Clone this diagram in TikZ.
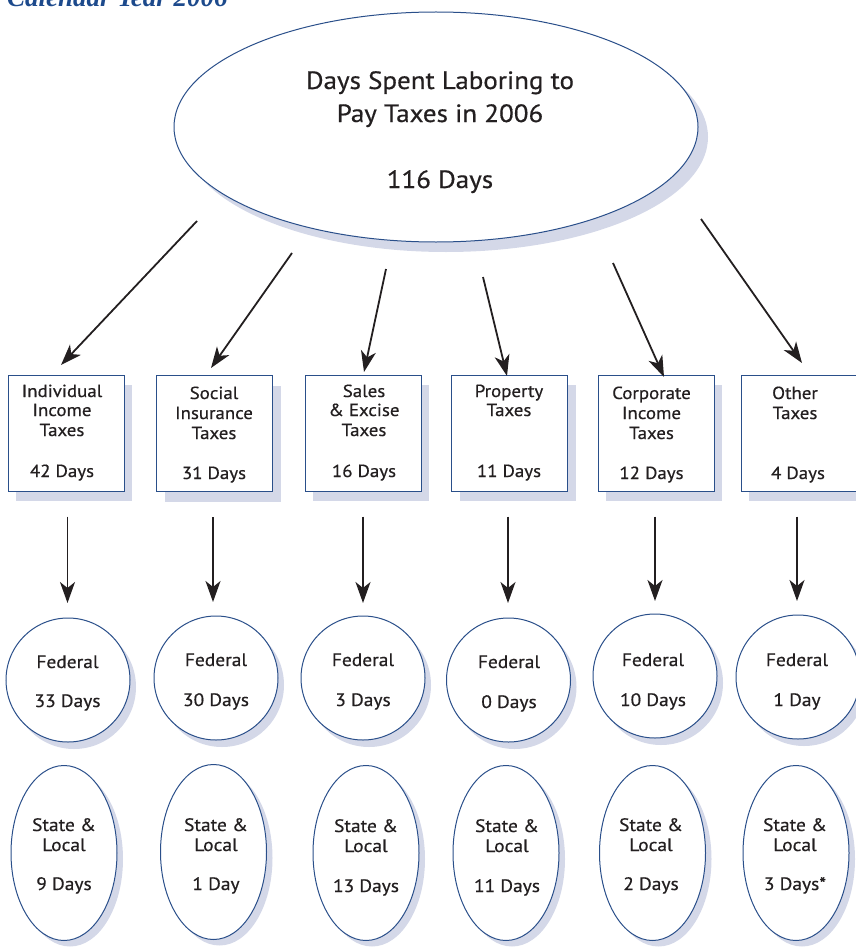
\documentclass[tikz,border=0pt]{standalone}
\usepackage{fontspec}
\setmainfont{PT Sans}[FakeStretch=1.08,FakeBold=0.5]
\newfontfamily\calfont{Liberation Serif}
\usetikzlibrary{shapes.geometric,shadows,arrows.meta}
\definecolor{edgeblue}{HTML}{2A4F8A}
\definecolor{shadowc}{HTML}{D4D8E8}
\definecolor{inkc}{HTML}{231F20}
\definecolor{titleblue}{HTML}{1D4A8C}
\begin{document}
\begin{tikzpicture}[x=1pt,y=-1pt,
  shapebase/.style={draw=edgeblue, line width=1pt, fill=white, inner sep=0pt},
  bigell/.style={shapebase, ellipse, minimum width=524pt, minimum height=230pt,
    drop shadow={shadow xshift=10pt, shadow yshift=-10pt, fill=shadowc, opacity=1}},
  taxbox/.style={shapebase, rectangle, minimum width=116pt, minimum height=116pt,
    drop shadow={shadow xshift=8pt, shadow yshift=-10pt, fill=shadowc, opacity=1}},
  fedc/.style={shapebase, circle, minimum size=124pt,
    drop shadow={shadow xshift=6pt, shadow yshift=-7pt, fill=shadowc, opacity=1}},
  stell/.style={shapebase, ellipse, minimum width=106pt, minimum height=175pt,
    drop shadow={shadow xshift=6pt, shadow yshift=-6pt, fill=shadowc, opacity=1}},
  ttl/.style={anchor=base, text=inkc, inner sep=0pt, font=\fontsize{25}{30}\selectfont},
  blbl/.style={anchor=base, text=inkc, inner sep=0pt, font=\fontsize{17.5}{20}\selectfont},
  flbl/.style={anchor=base, text=inkc, inner sep=0pt, font=\fontsize{18}{22}\selectfont},
  arr/.style={-{Stealth[length=21pt,width=15pt,inset=6pt]}, line width=1.8pt, draw=inkc}]
\useasboundingbox (0,0) rectangle (856,947);
\clip (0,0) rectangle (856,947);

% heading (cut off at top, as in the source)
\node[anchor=base west, inner sep=0pt, text=titleblue,
  font=\calfont\bfseries\itshape\fontsize{27}{30}\selectfont] (cal) at (7,7) {Calendar Year 2006};

% main ellipse
\node[bigell] (top) at (436,127) {};
\node[ttl] (tl1) at (440,89) {Days Spent Laboring to};
\node[ttl] (tl2) at (440,122) {Pay Taxes in 2006};
\node[ttl] (tl3) at (440,188) {116 Days};

% boxes
\node[taxbox] (b1) at (66,433) {};
\node[taxbox] (b2) at (214.5,433.5) {};
\node[taxbox] (b3) at (363,433) {};
\node[taxbox] (b4) at (509.5,433) {};
\node[taxbox] (b5) at (656,433) {};
\node[taxbox] (b6) at (799,433) {};

\node[blbl] (b1a) at (62,397) {Individual};
\node[blbl] (b1b) at (62,416) {Income};
\node[blbl] (b1c) at (62,436) {Taxes};
\node[blbl] (b1d) at (62,477) {42 Days};

\node[blbl] (b2a) at (214,399) {Social};
\node[blbl] (b2b) at (214,419) {Insurance};
\node[blbl] (b2c) at (214,439) {Taxes};
\node[blbl] (b2d) at (214,479) {31 Days};

\node[blbl] (b3a) at (364,397) {Sales};
\node[blbl] (b3b) at (364,416) {\& Excise};
\node[blbl] (b3c) at (364,436) {Taxes};
\node[blbl] (b3d) at (364,477) {16 Days};

\node[blbl] (b4a) at (509,397) {Property};
\node[blbl] (b4b) at (509,416) {Taxes};
\node[blbl] (b4d) at (509,477) {11 Days};

\node[blbl] (b5a) at (651.5,399) {Corporate};
\node[blbl] (b5b) at (651.5,419) {Income};
\node[blbl] (b5c) at (651.5,439) {Taxes};
\node[blbl] (b5d) at (651.5,479) {12 Days};

\node[blbl] (b6a) at (795,399) {Other};
\node[blbl] (b6b) at (795,419) {Taxes};
\node[blbl] (b6d) at (798,479) {4 Days};

% federal circles
\node[fedc] (f1) at (68,680) {};
\node[fedc] (f2) at (216,678) {};
\node[fedc] (f3) at (363,678) {};
\node[fedc] (f4) at (508.5,680) {};
\node[fedc] (f5) at (655,676) {};
\node[fedc] (f6) at (798,677) {};

\node[flbl] (f1a) at (67.5,668) {Federal};
\node[flbl] (f1b) at (67.5,707) {33 Days};
\node[flbl] (f2a) at (216,666) {Federal};
\node[flbl] (f2b) at (216,706) {30 Days};
\node[flbl] (f3a) at (363,666) {Federal};
\node[flbl] (f3b) at (363,706) {3 Days};
\node[flbl] (f4a) at (509,668) {Federal};
\node[flbl] (f4b) at (509,708) {0 Days};
\node[flbl] (f5a) at (653,666) {Federal};
\node[flbl] (f5b) at (653,706) {10 Days};
\node[flbl] (f6a) at (797,666) {Federal};
\node[flbl] (f6b) at (797,706) {1 Day};

% state & local ellipses
\node[stell] (s1) at (64,853) {};
\node[stell] (s2) at (213.5,852) {};
\node[stell] (s3) at (366,853) {};
\node[stell] (s4) at (506,853) {};
\node[stell] (s5) at (652.5,853) {};
\node[stell] (s6) at (796,853) {};

\node[flbl] (s1a) at (64,831) {State \&};
\node[flbl] (s1b) at (64,851) {Local};
\node[flbl] (s1c) at (64,890) {9 Days};
\node[flbl] (s2a) at (216,831) {State \&};
\node[flbl] (s2b) at (216,851) {Local};
\node[flbl] (s2c) at (216,890) {1 Day};
\node[flbl] (s3a) at (366,832) {State \&};
\node[flbl] (s3b) at (366,852) {Local};
\node[flbl] (s3c) at (366,892) {13 Days};
\node[flbl] (s4a) at (507,832) {State \&};
\node[flbl] (s4b) at (507,852) {Local};
\node[flbl] (s4c) at (507,892) {11 Days};
\node[flbl] (s5a) at (651,831) {State \&};
\node[flbl] (s5b) at (651,851) {Local};
\node[flbl] (s5c) at (651,890) {2 Days};
\node[flbl] (s6a) at (795,831) {State \&};
\node[flbl] (s6b) at (795,851) {Local};
\node[flbl] (s6c) at (795,890) {3 Days*};

% arrow end points
\coordinate (a1s) at (197,221); \coordinate (a1e) at (61,365);
\coordinate (a2s) at (292,253); \coordinate (a2e) at (211,368);
\coordinate (a3s) at (386,269); \coordinate (a3e) at (364,372);
\coordinate (a4s) at (483,277); \coordinate (a4e) at (507,376);
\coordinate (a5s) at (613,263); \coordinate (a5e) at (664,377);
\coordinate (a6s) at (701,219); \coordinate (a6e) at (802,363);

\draw[arr] (a1s) -- (a1e);
\draw[arr] (a2s) -- (a2e);
\draw[arr] (a3s) -- (a3e);
\draw[arr] (a4s) -- (a4e);
\draw[arr] (a5s) -- (a5e);
\draw[arr] (a6s) -- (a6e);

% vertical arrows box -> federal
\draw[arr] ([yshift=-25pt]b1.south -| 67.5,0) -- (67.5,603);
\draw[arr] ([yshift=-25pt]b2.south -| 213,0) -- (213,602);
\draw[arr] ([yshift=-25pt]b3.south -| 363,0) -- (363,603);
\draw[arr] ([yshift=-25pt]b4.south -| 508,0) -- (508,603);
\draw[arr] ([yshift=-25pt]b5.south -| 655,0) -- (655,601);
\draw[arr] ([yshift=-25pt]b6.south -| 797,0) -- (797,601);
\end{tikzpicture}
\end{document}
